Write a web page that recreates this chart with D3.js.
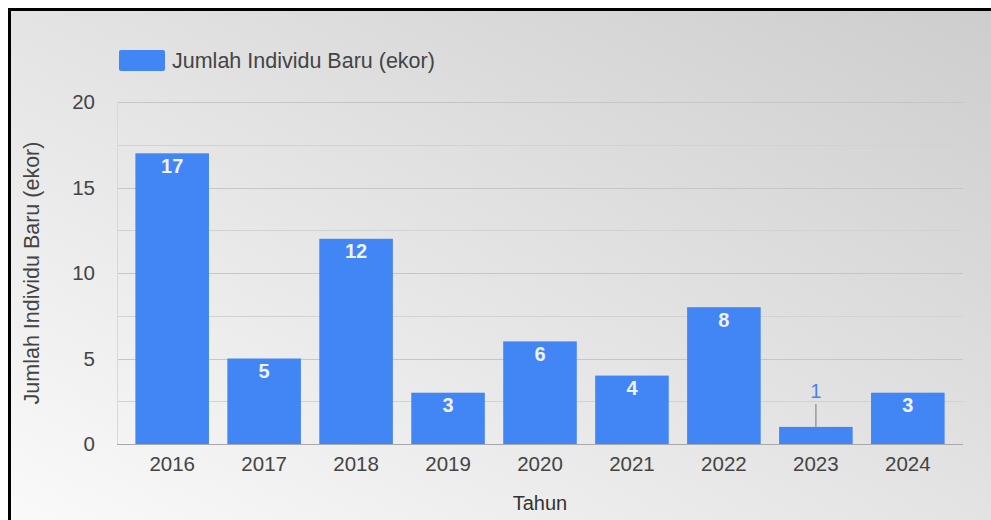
<!DOCTYPE html>
<html>
<head>
<meta charset="utf-8">
<script src="https://cdn.jsdelivr.net/npm/d3@7"></script>
<style>
  html, body { margin: 0; padding: 0; background: #fff; }
  svg { display: block; font-family: "Liberation Sans", Arial, sans-serif; }
</style>
</head>
<body>
<div id="chart"></div>
<script>
// data
const years = ["2016", "2017", "2018", "2019", "2020", "2021", "2022", "2023", "2024"];
const jumlahBaru = [17, 5, 12, 3, 6, 4, 8, 1, 3];
const yTicks = [0, 5, 10, 15, 20];
const yMinorTicks = [2.5, 7.5, 12.5, 17.5];
const seriesName = "Jumlah Individu Baru (ekor)";

const W = 991, H = 520;
const plot = { left: 117, right: 963, top: 102, bottom: 444 };
const barColor = "#4285f4";

const svg = d3.select("#chart").append("svg")
  .attr("width", W)
  .attr("height", H);

// background gradient (light bottom-left, darker top-right)
const defs = svg.append("defs");
const grad = defs.append("linearGradient")
  .attr("id", "bg")
  .attr("x1", "0").attr("y1", "1")
  .attr("x2", "1").attr("y2", "0");
grad.append("stop").attr("offset", "0%").attr("stop-color", "#fafafa");
grad.append("stop").attr("offset", "100%").attr("stop-color", "#cdcdcd");

svg.append("rect")
  .attr("x", 9.5).attr("y", 9.5)
  .attr("width", W)
  .attr("height", H)
  .attr("fill", "url(#bg)")
  .attr("stroke", "#000")
  .attr("stroke-width", 3);

// scales
const x = d3.scaleBand()
  .domain(years)
  .range([plot.left, plot.right])
  .paddingInner(0.2)
  .paddingOuter(0.2);

const y = d3.scaleLinear()
  .domain([0, 20])
  .range([plot.bottom, plot.top]);

// minor gridlines
svg.append("g")
  .selectAll("line")
  .data(yMinorTicks)
  .join("line")
  .attr("x1", plot.left).attr("x2", plot.right)
  .attr("y1", d => Math.round(y(d)) + 0.5)
  .attr("y2", d => Math.round(y(d)) + 0.5)
  .attr("stroke", "#d2d2d2");

// major gridlines
svg.append("g")
  .selectAll("line")
  .data(yTicks.filter(d => d > 0))
  .join("line")
  .attr("x1", plot.left).attr("x2", plot.right)
  .attr("y1", d => Math.round(y(d)) + 0.5)
  .attr("y2", d => Math.round(y(d)) + 0.5)
  .attr("stroke", "#c6c6c6");

// faint left edge of chart area
svg.append("line")
  .attr("x1", plot.left + 0.5).attr("x2", plot.left + 0.5)
  .attr("y1", plot.top).attr("y2", plot.bottom)
  .attr("stroke", "#d8d8d8");

// y axis labels
const yAxis = svg.append("g")
  .attr("transform", `translate(${plot.left},0)`)
  .call(d3.axisLeft(y).tickValues(yTicks).tickSize(0).tickPadding(22));
yAxis.select(".domain").remove();
yAxis.selectAll("text")
  .attr("font-size", 20.5)
  .attr("font-family", "Liberation Sans, Arial, sans-serif")
  .attr("fill", "#444");

// bars
svg.append("g")
  .selectAll("rect")
  .data(years)
  .join("rect")
  .attr("x", d => x(d))
  .attr("width", x.bandwidth())
  .attr("y", (d, i) => y(jumlahBaru[i]))
  .attr("height", (d, i) => y(0) - y(jumlahBaru[i]))
  .attr("fill", barColor);

// x axis baseline + labels
const xAxis = svg.append("g")
  .attr("transform", `translate(0,${plot.bottom})`)
  .call(d3.axisBottom(x).tickSize(0).tickPadding(12));
xAxis.select(".domain")
  .attr("d", `M${plot.left},0.5H${plot.right}`)
  .attr("stroke", "#a8a8a8");
xAxis.selectAll("text")
  .attr("font-size", 20.5)
  .attr("font-family", "Liberation Sans, Arial, sans-serif")
  .attr("fill", "#444");

// data labels
const minInside = 2;
const labels = svg.append("g");
years.forEach((yr, i) => {
  const v = jumlahBaru[i];
  const cx = x(yr) + x.bandwidth() / 2;
  if (v >= minInside) {
    labels.append("text")
      .attr("x", cx)
      .attr("y", y(v) + 19.5)
      .attr("text-anchor", "middle")
      .attr("font-size", 20)
      .attr("font-weight", "bold")
      .attr("fill", "#eef3fd")
      .text(v);
  } else {
    labels.append("line")
      .attr("x1", cx).attr("x2", cx)
      .attr("y1", y(v)).attr("y2", y(v) - 23)
      .attr("stroke", "#999")
      .attr("stroke-width", 1.5);
    labels.append("text")
      .attr("x", cx)
      .attr("y", y(v) - 29)
      .attr("text-anchor", "middle")
      .attr("font-size", 20)
      .attr("fill", barColor)
      .text(v);
  }
});

// axis titles
svg.append("text")
  .attr("x", (plot.left + plot.right) / 2)
  .attr("y", 510)
  .attr("text-anchor", "middle")
  .attr("font-size", 20)
  .attr("fill", "#333")
  .text("Tahun");

svg.append("text")
  .attr("transform", `translate(39,${(plot.top + plot.bottom) / 2}) rotate(-90)`)
  .attr("text-anchor", "middle")
  .attr("font-size", 21.5)
  .attr("fill", "#444")
  .text(seriesName);

// legend
const legend = svg.append("g").attr("transform", "translate(119,50)");
legend.append("rect")
  .attr("width", 46).attr("height", 21)
  .attr("rx", 2)
  .attr("fill", barColor);
legend.append("text")
  .attr("x", 53).attr("y", 18)
  .attr("font-size", 21.5)
  .attr("fill", "#444")
  .text(seriesName);
</script>
</body>
</html>
